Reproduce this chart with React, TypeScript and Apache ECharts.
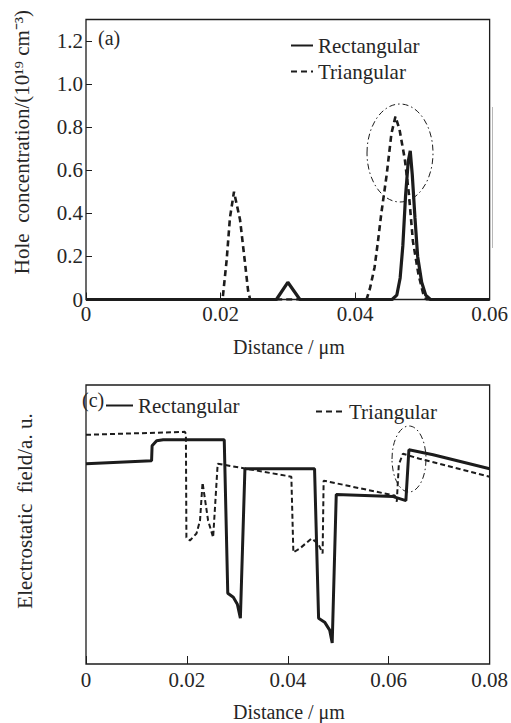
import React, { useEffect, useRef } from "react";
import * as echarts from "echarts";

// ---- Panel (a): hole concentration (10^19 cm^-3) vs distance (μm)
const rectTopX = [0, 0.0283, 0.03, 0.0318, 0.0455, 0.0462, 0.0467, 0.0471, 0.0475, 0.0479, 0.0482, 0.0485, 0.0489, 0.0493, 0.0499, 0.0505, 0.0512, 0.06];
const rectTopY = [0, 0, 0.08, 0, 0, 0.02, 0.1, 0.25, 0.48, 0.64, 0.69, 0.58, 0.38, 0.2, 0.08, 0.02, 0, 0];
const triTopX = [0, 0.0203, 0.0209, 0.0214, 0.022, 0.0229, 0.0236, 0.0241, 0.0244, 0.0417, 0.0422, 0.0429, 0.0434, 0.0439, 0.0447, 0.0454, 0.046, 0.0466, 0.0474, 0.048, 0.0486, 0.0494, 0.0501, 0.0506, 0.06];
const triTopY = [0, 0, 0.18, 0.38, 0.5, 0.37, 0.18, 0.04, 0, 0, 0.05, 0.15, 0.27, 0.4, 0.58, 0.77, 0.85, 0.79, 0.65, 0.49, 0.27, 0.12, 0.03, 0, 0];

// ---- Panel (c): electrostatic field (a.u.) vs distance (μm)
const rectBotX = [0, 0.013, 0.0131, 0.014, 0.0153, 0.0274, 0.0281, 0.0292, 0.03, 0.0306, 0.0315, 0.0453, 0.0461, 0.0473, 0.0483, 0.0488, 0.0496, 0.0609, 0.0634, 0.064, 0.0688, 0.08];
const rectBotY = [201, 204, 219, 224, 225, 225, 71, 67, 60, 46, 196, 196, 46, 42, 34, 21, 170, 168, 164, 215, 210, 196];
const triBotX = [0, 0.0196, 0.0198, 0.0199, 0.0206, 0.0219, 0.0226, 0.0231, 0.0242, 0.0252, 0.0261, 0.0407, 0.0411, 0.0424, 0.0447, 0.046, 0.0469, 0.0471, 0.0612, 0.0616, 0.062, 0.0628, 0.0661, 0.08];
const triBotY = [230, 233, 231, 127, 124, 131, 144, 182, 144, 127, 201, 188, 112, 116, 126, 121, 111, 184, 169, 163, 200, 211, 206, 188];

const seriesNames = ["Rectangular", "Triangular"];
const topXTicks = { min: 0, max: 0.06, interval: 0.02 };
const topYTicks = { min: 0, max: 1.3, interval: 0.2 };
const botXTicks = { min: 0, max: 0.08, interval: 0.02 };
const botYRange = { min: 0, max: 280 };

const FONT = "Liberation Serif";
const INK = "#1c1c1c";
const TXT = "#262626";

const zip = (xs: number[], ys: number[]) => xs.map((x, i) => [x, ys[i]]);

export default function App() {
  const ref = useRef<HTMLDivElement>(null);
  useEffect(() => {
    if (!ref.current) return;
    const chart = echarts.init(ref.current, undefined, { renderer: "svg" });
    const xLabel = (v: number) => (v === 0 ? "0" : v.toFixed(2));
    const commonTick = { show: true, inside: true, length: 7, lineStyle: { color: INK, width: 1 } };
    const legendBase = {
      padding: 0,
      itemHeight: 14,
      selectedMode: false,
      itemStyle: { opacity: 0, borderWidth: 0 },
      textStyle: { fontFamily: FONT, fontSize: 21, color: TXT },
    };
    const option: any = {
      animation: false,
      backgroundColor: "#ffffff",
      textStyle: { fontFamily: FONT, color: TXT },
      grid: [
        { left: 86, top: 19.5, width: 404, height: 280, show: true, borderColor: INK, borderWidth: 1.3, containLabel: false },
        { left: 86, top: 385, width: 404, height: 279, show: true, borderColor: INK, borderWidth: 1.3, containLabel: false },
      ],
      xAxis: [
        {
          type: "value", gridIndex: 0, ...topXTicks,
          axisLine: { show: false }, axisTick: commonTick, splitLine: { show: false },
          axisLabel: { formatter: xLabel, fontSize: 21, fontFamily: FONT, color: TXT, margin: 4, showMaxLabel: true },
        },
        {
          type: "value", gridIndex: 1, ...botXTicks,
          axisLine: { show: false }, axisTick: { ...commonTick, length: 8 }, splitLine: { show: false },
          axisLabel: { formatter: xLabel, fontSize: 21, fontFamily: FONT, color: TXT, margin: 5, showMaxLabel: true },
        },
      ],
      yAxis: [
        {
          type: "value", gridIndex: 0, ...topYTicks,
          axisLine: { show: false }, axisTick: { ...commonTick, length: 6 }, splitLine: { show: false },
          axisLabel: {
            formatter: (v: number) => (v === 0 ? "0" : v > 1.25 ? "" : v.toFixed(1)),
            fontSize: 21, fontFamily: FONT, color: TXT, margin: 3,
          },
        },
        {
          type: "value", gridIndex: 1, ...botYRange,
          axisLine: { show: false }, axisTick: { show: false }, axisLabel: { show: false }, splitLine: { show: false },
        },
      ],
      legend: [
        { ...legendBase, data: seriesNames, orient: "vertical", left: 290, top: 35, itemWidth: 22, itemGap: 5 },
        { ...legendBase, data: [seriesNames[0]], left: 105, top: 395, itemWidth: 27 },
        { ...legendBase, data: [seriesNames[1]], left: 315, top: 401, itemWidth: 28 },
      ],
      series: [
        {
          name: seriesNames[1], type: "line", xAxisIndex: 0, yAxisIndex: 0, data: zip(triTopX, triTopY),
          symbol: "none", showSymbol: false, z: 2,
          lineStyle: { color: INK, width: 2.6, type: [6, 4] }, itemStyle: { color: INK },
        },
        {
          name: seriesNames[0], type: "line", xAxisIndex: 0, yAxisIndex: 0, data: zip(rectTopX, rectTopY),
          symbol: "none", showSymbol: false, z: 3,
          lineStyle: { color: INK, width: 3.2, type: "solid" }, itemStyle: { color: INK },
        },
        {
          name: seriesNames[1], type: "line", xAxisIndex: 1, yAxisIndex: 1, data: zip(triBotX, triBotY),
          symbol: "none", showSymbol: false, z: 2,
          lineStyle: { color: INK, width: 2, type: [5, 3] }, itemStyle: { color: INK },
        },
        {
          name: seriesNames[0], type: "line", xAxisIndex: 1, yAxisIndex: 1, data: zip(rectBotX, rectBotY),
          symbol: "none", showSymbol: false, z: 3,
          lineStyle: { color: INK, width: 3, type: "solid" }, itemStyle: { color: INK },
        },
      ],
      graphic: [
        {
          type: "text", x: 22, y: 142, rotation: Math.PI / 2,
          style: { text: "Hole  concentration/(10¹⁹ cm⁻³)", font: `21px "${FONT}"`, fill: TXT, align: "center", verticalAlign: "middle" },
        },
        {
          type: "text", x: 289, y: 347,
          style: { text: "Distance / μm", font: `20px "${FONT}"`, fill: TXT, align: "center", verticalAlign: "middle" },
        },
        {
          type: "text", x: 25, y: 511, rotation: Math.PI / 2,
          style: { text: "Electrostatic  field/a. u.", font: `21px "${FONT}"`, fill: TXT, align: "center", verticalAlign: "middle" },
        },
        {
          type: "text", x: 289, y: 712,
          style: { text: "Distance / μm", font: `20px "${FONT}"`, fill: TXT, align: "center", verticalAlign: "middle" },
        },
        {
          type: "text", x: 98, y: 38,
          style: { text: "(a)", font: `20px "${FONT}"`, fill: TXT, align: "left", verticalAlign: "middle" },
        },
        {
          type: "text", x: 82, y: 400,
          style: { text: "(c)", font: `20px "${FONT}"`, fill: TXT, align: "left", verticalAlign: "middle" },
        },
        {
          type: "ellipse", shape: { cx: 400, cy: 153, rx: 33, ry: 49 },
          style: { fill: "none", stroke: INK, lineWidth: 1, lineDash: [6, 3, 1.5, 3] }, z: 10,
        },
        {
          type: "ellipse", shape: { cx: 409, cy: 459, rx: 17, ry: 33 },
          style: { fill: "none", stroke: INK, lineWidth: 1, lineDash: [6, 3, 1.5, 3] }, z: 10,
        },
        {
          type: "line", shape: { x1: 492.5, y1: 107, x2: 492.5, y2: 248 },
          style: { stroke: "#b8b8b8", lineWidth: 1 },
        },
      ],
    };
    chart.setOption(option);
    return () => chart.dispose();
  }, []);
  return (
    <div
      ref={ref}
      style={{ position: "absolute", left: 0, top: 0, width: 511, height: 723, background: "#fff" }}
    />
  );
}
